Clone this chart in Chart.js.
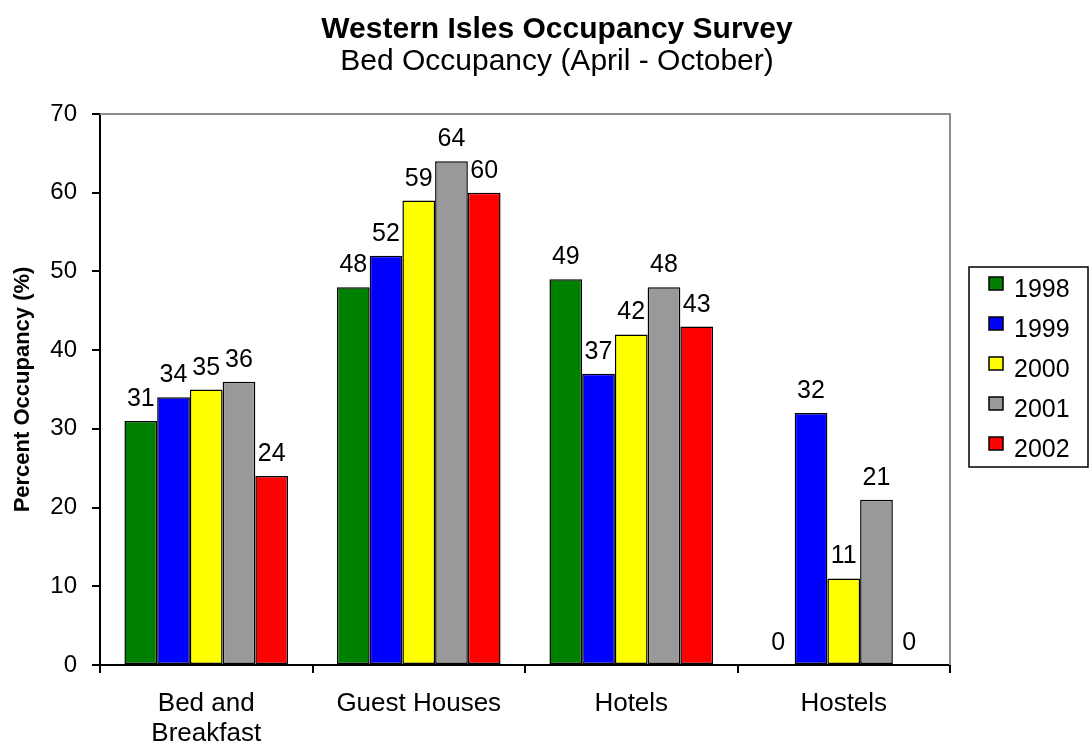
<!DOCTYPE html>
<html>
<head>
<meta charset="utf-8">
<script src="https://cdn.jsdelivr.net/npm/chart.js@4.4.0/dist/chart.umd.min.js"></script>
<style>
  html, body { margin: 0; padding: 0; background: #fff; }
</style>
</head>
<body>
<canvas id="occupancyChart" width="1090" height="749"></canvas>
<script>
// Data
const categories = [['Bed and', 'Breakfast'], 'Guest Houses', 'Hotels', 'Hostels'];
const years = ['1998', '1999', '2000', '2001', '2002'];
const occ1998 = [31, 48, 49, 0];
const occ1999 = [34, 52, 37, 32];
const occ2000 = [35, 59, 42, 11];
const occ2001 = [36, 64, 48, 21];
const occ2002 = [24, 60, 43, 0];
const yearColors = ['#008000', '#0000ff', '#ffff00', '#999999', '#ff0000'];

const FONT = "'Liberation Sans', Arial, sans-serif";
Chart.defaults.font.family = FONT;
Chart.defaults.color = '#000';

const seriesValues = [occ1998, occ1999, occ2000, occ2001, occ2002];

// grey top / right edge of the plot frame
const plotFrame = {
  id: 'plotFrame',
  beforeDatasetsDraw(chart) {
    const { ctx, chartArea: a } = chart;
    ctx.save();
    ctx.strokeStyle = '#8c8c8c';
    ctx.lineWidth = 2;
    ctx.beginPath();
    ctx.moveTo(a.left, a.top);
    ctx.lineTo(a.right, a.top);
    ctx.lineTo(a.right, a.bottom);
    ctx.stroke();
    ctx.restore();
  }
};

// numbers above each bar
const valueLabels = {
  id: 'valueLabels',
  afterDatasetsDraw(chart) {
    const ctx = chart.ctx;
    ctx.save();
    ctx.font = '25px ' + FONT;
    ctx.fillStyle = '#000';
    ctx.textAlign = 'center';
    ctx.textBaseline = 'alphabetic';
    chart.data.datasets.forEach((ds, i) => {
      chart.getDatasetMeta(i).data.forEach((bar, j) => {
        ctx.fillText(String(ds.data[j]), bar.x, bar.y - 15);
      });
    });
    ctx.restore();
  }
};

// boxed legend on the right
const boxLegend = {
  id: 'boxLegend',
  afterDraw(chart) {
    const ctx = chart.ctx;
    const left = chart.chartArea.right + 19;
    const top = 267;
    const w = 119, h = 200;
    ctx.save();
    ctx.strokeStyle = '#000';
    ctx.lineWidth = 1.5;
    ctx.strokeRect(left, top, w, h);
    ctx.font = '25px ' + FONT;
    ctx.textAlign = 'left';
    ctx.textBaseline = 'middle';
    chart.data.datasets.forEach((ds, i) => {
      const cy = top + 22 + i * 40;
      ctx.fillStyle = ds.backgroundColor;
      ctx.fillRect(left + 20, cy - 12, 14, 13);
      ctx.strokeStyle = '#000';
      ctx.lineWidth = 1.5;
      ctx.strokeRect(left + 20, cy - 12, 14, 13);
      ctx.fillStyle = '#000';
      ctx.fillText(ds.label, left + 45, cy + 1);
    });
    ctx.restore();
  }
};

const ctx = document.getElementById('occupancyChart').getContext('2d');
const occupancyChart = new Chart(ctx, {
  type: 'bar',
  data: {
    labels: categories,
    datasets: years.map((y, i) => ({
      label: y,
      data: seriesValues[i],
      backgroundColor: yearColors[i],
      borderColor: '#000',
      borderWidth: 1.5,
      borderSkipped: false,
      categoryPercentage: 0.77,
      barPercentage: 1
    }))
  },
  options: {
    responsive: false,
    animation: false,
    events: [],
    layout: { padding: { left: 24, right: 0, top: 0, bottom: 0 } },
    plugins: {
      legend: { display: false },
      tooltip: { enabled: false },
      title: {
        display: true,
        text: 'Western Isles Occupancy Survey',
        color: '#000',
        font: { size: 30, weight: 'bold', lineHeight: 1.1 },
        padding: { top: 13, bottom: 0 }
      },
      subtitle: {
        display: true,
        text: 'Bed Occupancy (April - October)',
        color: '#000',
        font: { size: 30, lineHeight: 1.1 },
        padding: { top: -1, bottom: 36 }
      }
    },
    scales: {
      x: {
        grid: { drawOnChartArea: false, color: '#000', lineWidth: 2, tickLength: 8 },
        border: { color: '#000', width: 2 },
        ticks: { font: { size: 26, lineHeight: 1.15 }, color: '#000', padding: 16, maxRotation: 0 },
        afterFit(scale) { scale.height = 84; }
      },
      y: {
        min: 0,
        max: 70,
        ticks: { stepSize: 10, font: { size: 24 }, color: '#000', padding: 15 },
        grid: { drawOnChartArea: false, color: '#000', lineWidth: 2, tickLength: 8 },
        border: { color: '#000', width: 2 },
        title: {
          display: true,
          text: 'Percent Occupancy (%)',
          color: '#000',
          font: { size: 22, weight: 'bold' },
          padding: { top: -14, bottom: 0 }
        },
        afterFit(scale) { scale.width = 76; }
      },
      // empty axis that only reserves room for the legend
      spacer: {
        type: 'linear',
        position: 'right',
        display: true,
        grid: { display: false },
        border: { display: false },
        ticks: { display: false },
        afterFit(scale) { scale.width = 140; }
      }
    }
  },
  plugins: [plotFrame, valueLabels, boxLegend]
});
</script>
</body>
</html>
